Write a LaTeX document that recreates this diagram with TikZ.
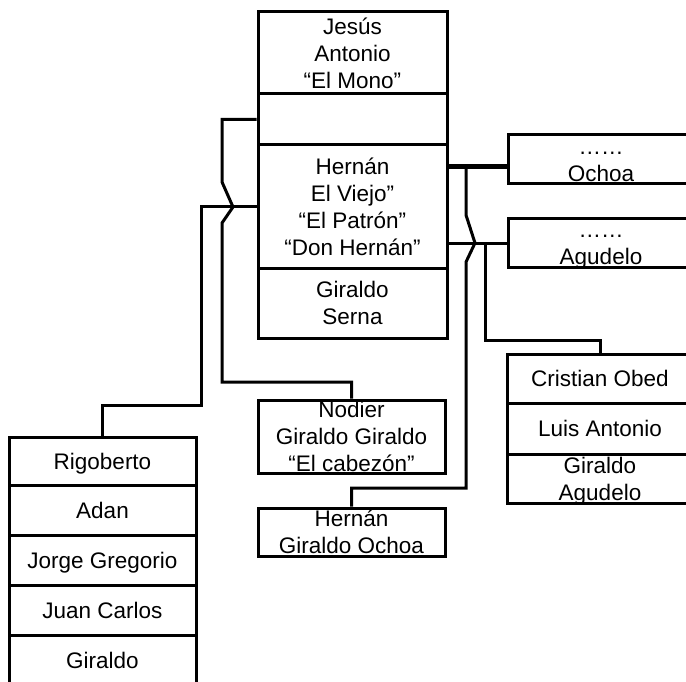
\documentclass[tikz,border=0pt]{standalone}
\usepackage{fontspec}
\setmainfont{Liberation Sans}
\usepackage{tikz}
\newcommand{\nm}[1]{\smash{\raisebox{-8pt}{\begin{tabular}{@{}c@{}}#1\end{tabular}}}}
\tikzset{caja/.style={draw,line width=3pt,inner sep=0pt,font=\fontsize{22.5}{27}\selectfont},
  linea/.style={line width=3pt},
  gruesa/.style={line width=4.5pt}}

\begin{document}
\begin{tikzpicture}[x=1pt,y=-1pt]
 \clip (0,0) rectangle (686,682);
 \node[caja,minimum width=189pt,minimum height=82pt] (jesus) at (352.5,53) {\nm{Jesús\\Antonio\\“El Mono”}};
 \node[caja,minimum width=189pt,minimum height=51pt] (hueco) at (352.5,119.5) {};
 \node[caja,minimum width=189pt,minimum height=123pt] (hernan) at (352.5,206.5) {\nm{Hernán\\El Viejo”\\“El Patrón”\\“Don Hernán”}};
 \node[caja,minimum width=189pt,minimum height=70pt] (serna) at (352.5,303) {\nm{Giraldo\\Serna}};

 \node[caja,minimum width=186pt,minimum height=49pt] (ochoa) at (601,159.5) {\nm{……\\Ochoa}};
 \node[caja,minimum width=186pt,minimum height=48pt] (agudelo) at (601,243) {\nm{……\\Agudelo}};

 \node[caja,minimum width=187pt,minimum height=73pt] (nodier) at (351.5,436.5) {\nm{Nodier\\Giraldo Giraldo\\“El cabezón”}};
 \node[caja,minimum width=187pt,minimum height=48pt] (hgo) at (351.5,532) {\nm{Hernán\\Giraldo Ochoa}};

 \node[caja,minimum width=186pt,minimum height=49pt] (cristian) at (600,378.5) {\nm{Cristian Obed}};
 \node[caja,minimum width=186pt,minimum height=51pt] (luis) at (600,428.5) {\nm{Luis Antonio}};
 \node[caja,minimum width=186pt,minimum height=49pt] (giragu) at (600,478.5) {\nm{Giraldo\\Agudelo}};

 \node[caja,minimum width=187pt,minimum height=48pt] (rigoberto) at (102.5,461) {\nm{Rigoberto}};
 \node[caja,minimum width=187pt,minimum height=50pt] (adan) at (102.5,510) {\nm{Adan}};
 \node[caja,minimum width=187pt,minimum height=50pt] (jorge) at (102.5,560) {\nm{Jorge Gregorio}};
 \node[caja,minimum width=187pt,minimum height=50pt] (juan) at (102.5,610) {\nm{Juan Carlos}};
 \node[caja,minimum width=187pt,minimum height=50pt] (giraldo) at (102.5,660) {\nm{Giraldo}};

 \draw[linea] (hueco.west) -| (222,182) -- (233,207) -- (222,223) -- (222,382) -| (nodier.north);
 \draw[linea] (hernan.west) -| (201,405) -| (rigoberto.north);

 \coordinate (oc) at ([yshift=19pt]ochoa.south west);
 \draw[gruesa] (hernan.east |- oc) -- (oc);
 \draw[linea] (466,165) -- (466,215) -- (475,243) -- (466,262) -- (466,488) -| (hgo.north);
 \draw[linea] (hernan.east |- agudelo.west) -- (agudelo.west);
 \draw[linea] (485,243) -- (485,340) -| (cristian.north);
\end{tikzpicture}
\end{document}
